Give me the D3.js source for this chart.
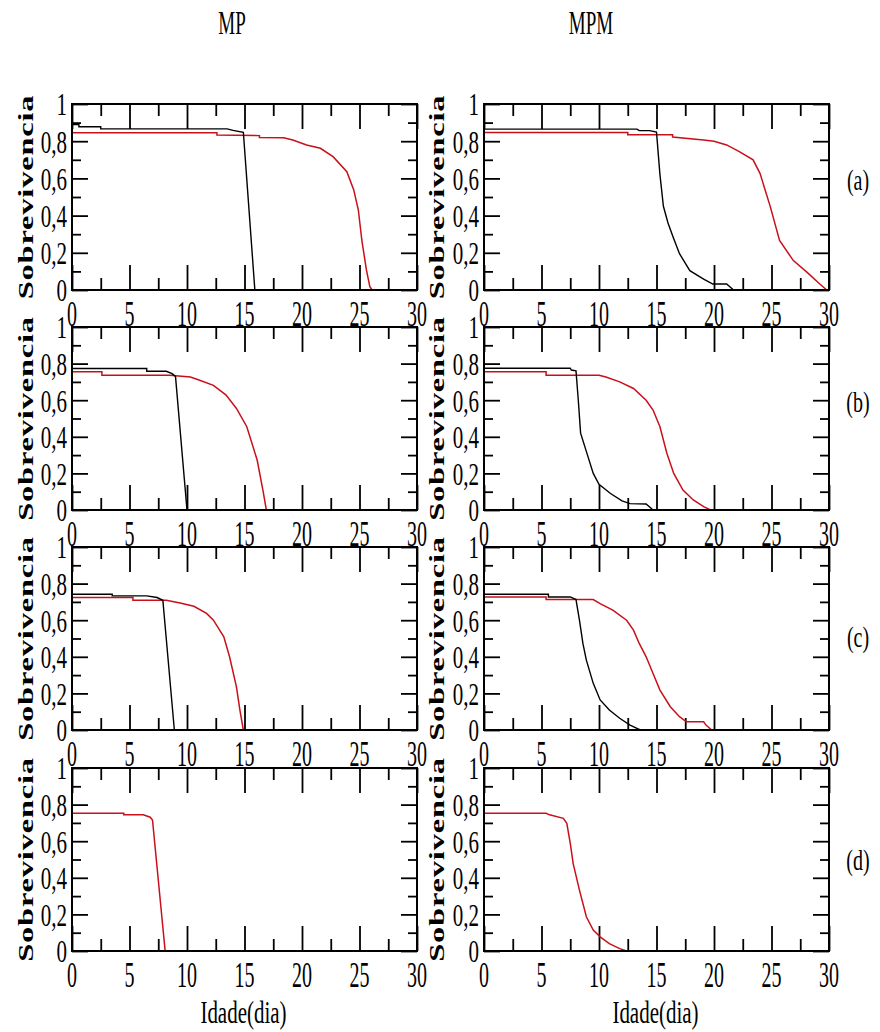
<!DOCTYPE html>
<html>
<head>
<meta charset="utf-8">
<script src="https://cdn.jsdelivr.net/npm/d3@7"></script>
<style>
  body { margin: 0; background: #fff; }
</style>
</head>
<body>
<svg id="chart" width="880" height="1032"></svg>
<script>
// --- data ---
var columnTitles = ["MP", "MPM"];
var panelLabels = ["(a)", "(b)", "(c)", "(d)"];
var xTicks = [0, 5, 10, 15, 20, 25, 30];
var xMinorTicks = [2.5, 7.5, 12.5, 17.5, 22.5, 27.5];
var yTicks = [0, 0.2, 0.4, 0.6, 0.8, 1];
var yTickLabels = ["0", "0,2", "0,4", "0,6", "0,8", "1"];
var yMinorTicks = [0.1, 0.3, 0.5, 0.7, 0.9];
var yLabel = "Sobrevivencia";
var xLabel = "Idade(dia)";

// [idade, sobrevivencia]
var mpBlackA = [[0,0.89],[0.6,0.89],[0.6,0.878],[2.5,0.878],[2.5,0.866],[13.5,0.866],[14,0.858],[14.9,0.848],[15.9,0]];
var mpRedA = [[0,0.846],[12.6,0.846],[12.6,0.833],[16.3,0.83],[16.3,0.82],[18.4,0.819],[19.2,0.806],[20.4,0.78],[21.6,0.762],[22.7,0.717],[23.9,0.636],[24.5,0.538],[24.9,0.43],[25.2,0.269],[25.6,0.108],[25.9,0.018],[26.1,0],[26.6,0]];
var mpmBlackA = [[0,0.865],[13.3,0.865],[13.5,0.857],[14.4,0.857],[15,0.849],[15.3,0.62],[15.6,0.45],[16,0.36],[16.45,0.284],[17,0.195],[17.9,0.104],[19.1,0.059],[19.9,0.032],[21.1,0.032],[21.7,0]];
var mpmRedA = [[0,0.847],[12.5,0.847],[12.5,0.835],[16.4,0.835],[16.4,0.822],[19.1,0.807],[20,0.8],[21.1,0.78],[22.2,0.744],[23.4,0.7],[24,0.627],[24.9,0.447],[25.7,0.266],[26.9,0.158],[28.1,0.095],[29.2,0.032],[29.8,0]];

var mpBlackB = [[0,0.773],[6.5,0.773],[6.5,0.758],[8.2,0.758],[8.7,0.745],[9.0,0.73],[10.0,0]];
var mpRedB = [[0,0.755],[2.6,0.755],[2.6,0.736],[8.5,0.736],[10.3,0.727],[11.1,0.709],[12.3,0.681],[13.4,0.628],[14.3,0.555],[15.2,0.455],[16.1,0.273],[16.6,0.109],[16.9,0]];
var mpmBlackB = [[0,0.775],[7.5,0.775],[7.6,0.765],[8.0,0.76],[8.2,0.6],[8.4,0.42],[9,0.3],[9.5,0.2],[10,0.14],[11,0.09],[12,0.05],[12.7,0.035],[14.1,0.033],[14.7,0]];
var mpmRedB = [[0,0.755],[5.4,0.755],[5.4,0.736],[10,0.736],[10.6,0.727],[11.8,0.7],[13,0.664],[14.1,0.6],[14.7,0.546],[15.3,0.455],[15.9,0.31],[16.5,0.2],[17.3,0.109],[18.2,0.055],[19.1,0.018],[19.7,0]];

var mpBlackC = [[0,0.742],[3.5,0.742],[3.5,0.733],[6.5,0.733],[7.4,0.724],[7.9,0.709],[8.9,0]];
var mpRedC = [[0,0.724],[5.3,0.724],[5.3,0.709],[8.2,0.709],[9.4,0.694],[10.6,0.676],[11.7,0.637],[12.3,0.6],[13.2,0.509],[13.7,0.4],[14.3,0.236],[14.6,0.109],[14.9,0]];
var mpmBlackC = [[0,0.742],[5.6,0.742],[5.6,0.727],[7.5,0.727],[8.0,0.713],[8.3,0.6],[8.6,0.473],[8.9,0.382],[9.5,0.255],[10.1,0.164],[10.9,0.109],[11.8,0.064],[12.7,0.027],[13.3,0.009],[13.6,0]];
var mpmRedC = [[0,0.727],[5.4,0.727],[5.4,0.713],[9.5,0.713],[10.1,0.691],[11.2,0.655],[12.4,0.6],[13,0.546],[13.5,0.473],[14.1,0.4],[14.7,0.309],[15.3,0.218],[16.2,0.127],[17,0.073],[17.6,0.045],[19.1,0.045],[19.3,0.027],[19.8,0]];

var mpRedD = [[0,0.753],[4.5,0.753],[4.5,0.744],[6.2,0.744],[6.8,0.731],[7.0,0.716],[8.1,0]];
var mpmRedD = [[0,0.753],[5.4,0.753],[5.7,0.744],[6.9,0.725],[7.2,0.698],[7.5,0.589],[7.75,0.479],[8.3,0.333],[8.9,0.187],[9.5,0.114],[10.1,0.077],[10.9,0.04],[11.8,0.013],[12.4,0]];

// rows x columns; null = curve not present
var blackSeries = [[mpBlackA, mpmBlackA], [mpBlackB, mpmBlackB], [mpBlackC, mpmBlackC], [null, null]];
var redSeries = [[mpRedA, mpmRedA], [mpRedB, mpmRedB], [mpRedC, mpmRedC], [mpRedD, mpmRedD]];

// --- layout ---
var colLeft = [72, 484];
var plotW = 345;
var rowTop = [104, 327, 547, 768];
var rowBottom = [290, 510, 730, 951];
var redColor = "#c8101a";
var serif = "'Liberation Serif', 'Times New Roman', 'DejaVu Serif', serif";

var svg = d3.select("#chart");

// the scanned figure has its glyphs stretched vertically
function label(g, x, y, txt, size, sy, anchor, weight) {
  g.append("text")
    .attr("transform", "translate(" + x + "," + y + ") scale(1," + sy + ")")
    .attr("text-anchor", anchor || "middle")
    .attr("dy", "0.35em")
    .attr("font-family", serif)
    .attr("font-size", size)
    .attr("font-weight", weight || "normal")
    .attr("fill", "#000")
    .text(txt);
}

// column titles
columnTitles.forEach(function (t, c) {
  label(svg, [232, 591][c], 22, t, 19, 1.8);
});

rowTop.forEach(function (top, r) {
  var bottom = rowBottom[r];
  colLeft.forEach(function (left, c) {
    var g = svg.append("g");
    var x = d3.scaleLinear().domain([0, 30]).range([left, left + plotW]);
    var y = d3.scaleLinear().domain([0, 1]).range([bottom, top]);

    // inward ticks on all four sides
    function ticks(axis, vals, size, tx, ty) {
      var a = g.append("g")
        .attr("transform", "translate(" + tx + "," + ty + ")")
        .call(axis.tickValues(vals).tickSize(-size).tickFormat(""));
      a.select(".domain").remove();
      a.selectAll("line").attr("stroke", "#000").attr("stroke-width", 1.8);
    }
    ticks(d3.axisBottom(x), xTicks, 25, 0, bottom);
    ticks(d3.axisBottom(x), xMinorTicks, 12, 0, bottom);
    ticks(d3.axisTop(x), xTicks, 25, 0, top);
    ticks(d3.axisTop(x), xMinorTicks, 12, 0, top);
    ticks(d3.axisLeft(y), yTicks, 16, left, 0);
    ticks(d3.axisLeft(y), yMinorTicks, 9, left, 0);
    ticks(d3.axisRight(y), yTicks, 16, left + plotW, 0);
    ticks(d3.axisRight(y), yMinorTicks, 9, left + plotW, 0);

    var line = d3.line().x(function (d) { return x(d[0]); }).y(function (d) { return y(d[1]); });

    if (redSeries[r][c]) {
      g.append("path").datum(redSeries[r][c]).attr("d", line)
        .attr("fill", "none").attr("stroke", redColor).attr("stroke-width", 1.5);
    }
    if (blackSeries[r][c]) {
      g.append("path").datum(blackSeries[r][c]).attr("d", line)
        .attr("fill", "none").attr("stroke", "#000").attr("stroke-width", 1.4);
    }

    g.append("rect")
      .attr("x", left).attr("y", top)
      .attr("width", plotW).attr("height", bottom - top)
      .attr("fill", "none").attr("stroke", "#000").attr("stroke-width", 2);

    // tick labels
    xTicks.forEach(function (v) {
      label(g, x(v), bottom + 23, String(v), 20, 1.8);
    });
    yTicks.forEach(function (v, i) {
      label(g, left - 5, y(v), yTickLabels[i], 21, 1.55, "end");
    });

    // y axis title
    g.append("text")
      .attr("transform", "translate(" + (c === 0 ? 33 : 444) + "," + ((top + bottom) / 2) + ") scale(1,1.55) rotate(-90)")
      .attr("text-anchor", "middle")
      .attr("font-family", serif)
      .attr("font-size", 21)
      .attr("font-weight", "bold")
      .attr("letter-spacing", 0.5)
      .attr("fill", "#000")
      .text(yLabel);
  });

  label(svg, 858, [180, 402, 637, 860][r], panelLabels[r], 20, 1.45);
});

// x axis titles under the last row
colLeft.forEach(function (left) {
  label(svg, left + plotW / 2 - 1, 1012, xLabel, 21, 1.5);
});
</script>
</body>
</html>
